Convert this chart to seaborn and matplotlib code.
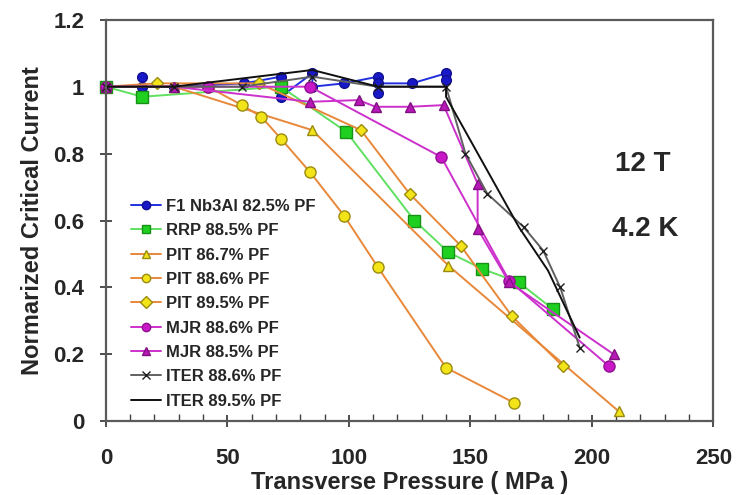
import numpy as np
import matplotlib
matplotlib.use("Agg")
import matplotlib.pyplot as plt
from matplotlib.ticker import MultipleLocator, FuncFormatter
import seaborn as sns

# Data (pressure in MPa, normalized Ic)
f1_x = [15, 15, 28, 57, 72, 72, 85, 85, 98, 112, 112, 112, 126, 140, 140]
f1_y = [1.03, 1.0, 1.0, 1.01, 1.03, 0.97, 1.04, 1.0, 1.01, 1.03, 0.98, 1.01, 1.01, 1.04, 1.02]

rrp_x = [0, 15, 72, 99, 127, 141, 155, 170, 184]
rrp_y = [1.0, 0.97, 1.0, 0.865, 0.60, 0.505, 0.455, 0.415, 0.335]

pit867_x = [0, 28, 85, 141, 211]
pit867_y = [1.0, 1.0, 0.87, 0.465, 0.03]

pit886_x = [0, 42, 56, 64, 72, 84, 98, 112, 140, 168]
pit886_y = [1.0, 1.0, 0.945, 0.91, 0.845, 0.745, 0.615, 0.46, 0.16, 0.055]

pit895_x = [0, 21, 63, 105, 125, 146, 167, 188]
pit895_y = [1.0, 1.01, 1.01, 0.87, 0.68, 0.525, 0.315, 0.165]

mjr886_x = [0, 42, 84, 138, 166, 207]
mjr886_y = [1.0, 1.0, 1.0, 0.79, 0.42, 0.165]

mjr885_x = [0, 28, 84, 104, 111, 125, 139, 153, 153, 166, 209]
mjr885_y = [1.0, 1.0, 0.955, 0.96, 0.94, 0.94, 0.945, 0.71, 0.575, 0.415, 0.20]

iter886_x = [0, 28, 56, 85, 112, 140, 148, 157, 172, 180, 187, 195]
iter886_y = [1.0, 1.0, 1.0, 1.03, 1.0, 1.0, 0.80, 0.68, 0.58, 0.51, 0.40, 0.22]

iter895_x = [0, 28, 85, 112, 140, 140, 170, 182, 195]
iter895_y = [1.0, 1.0, 1.05, 1.0, 1.0, 0.97, 0.58, 0.45, 0.25]

labels = ["F1 Nb3Al 82.5% PF", "RRP 88.5% PF", "PIT 86.7% PF", "PIT 88.6% PF",
          "PIT 89.5% PF", "MJR 88.6% PF", "MJR 88.5% PF", "ITER 88.6% PF",
          "ITER 89.5% PF"]

sns.set_theme(style="ticks")
plt.rcParams["font.family"] = ["Liberation Sans", "DejaVu Sans"]
plt.rcParams["font.weight"] = "bold"

fig = plt.figure(figsize=(7.4, 4.95), dpi=100)
ax = fig.add_axes([0.143, 0.149, 0.821, 0.811])

orange = "#e8883a"
yellow = "#f2e418"
series = [
    (f1_x, f1_y, dict(color="#2030e0", marker="o", ms=7, mfc="#1818c8", mec="#101090")),
    (rrp_x, rrp_y, dict(color="#60e060", marker="s", ms=8, mfc="#20d020", mec="#189018")),
    (pit867_x, pit867_y, dict(color=orange, marker="^", ms=7, mfc=yellow, mec="#9a8a10")),
    (pit886_x, pit886_y, dict(color=orange, marker="o", ms=8, mfc=yellow, mec="#9a8a10")),
    (pit895_x, pit895_y, dict(color=orange, marker="D", ms=6, mfc=yellow, mec="#9a8a10")),
    (mjr886_x, mjr886_y, dict(color="#cc30cc", marker="o", ms=8, mfc="#c818c8", mec="#901090")),
    (mjr885_x, mjr885_y, dict(color="#cc30cc", marker="^", ms=7, mfc="#b818b8", mec="#801080")),
    (iter886_x, iter886_y, dict(color="#606060", marker="x", ms=6, mfc="#202020", mec="#202020")),
    (iter895_x, iter895_y, dict(color="#101010", marker=None, ms=0, mfc="k", mec="k")),
]

for (xs, ys, st), lab in zip(series, labels):
    sns.lineplot(x=xs, y=ys, ax=ax, estimator=None, sort=False, label=lab,
                 color=st["color"], marker=st["marker"], markersize=st["ms"],
                 markerfacecolor=st["mfc"], markeredgecolor=st["mec"],
                 markeredgewidth=1.0, linewidth=1.4, clip_on=False)

ax.set_xlim(0, 250)
ax.set_ylim(0, 1.2)
ax.xaxis.set_major_locator(MultipleLocator(50))
ax.xaxis.set_minor_locator(MultipleLocator(10))
ax.yaxis.set_major_locator(MultipleLocator(0.2))
ax.yaxis.set_major_formatter(FuncFormatter(lambda v, p: f"{v:g}"))

for s in ax.spines.values():
    s.set_visible(True)
    s.set_color("#5a5a5a")
    s.set_linewidth(1.6)
ax.tick_params(which="major", direction="inout", length=9, width=1.3, color="#404040",
               labelsize=16, pad=11)
ax.tick_params(axis="x", which="major", pad=15)
ax.tick_params(which="minor", direction="in", length=5, width=1.0, color="#404040")
for t in ax.get_xticklabels() + ax.get_yticklabels():
    t.set_fontweight("bold")

ax.set_xlabel("Transverse Pressure ( MPa )", fontsize=17, fontweight="bold", labelpad=1)
ax.set_ylabel("Normarized Critical Current", fontsize=17, fontweight="bold", labelpad=7)

ax.text(221, 0.77, "12 T", fontsize=20, fontweight="bold", ha="center", va="center")
ax.text(222, 0.575, "4.2 K", fontsize=20, fontweight="bold", ha="center", va="center")

leg = ax.legend(loc="lower left", bbox_to_anchor=(0.03, 0.015), frameon=False,
                prop={"size": 12, "weight": "bold"}, labelspacing=0.56,
                handlelength=1.8, handletextpad=0.3, borderaxespad=0)
for h in leg.legend_handles:
    if h.get_marker() not in (None, "None", ""):
        h.set_markersize(6)

fig.savefig("out.png", dpi=100)
